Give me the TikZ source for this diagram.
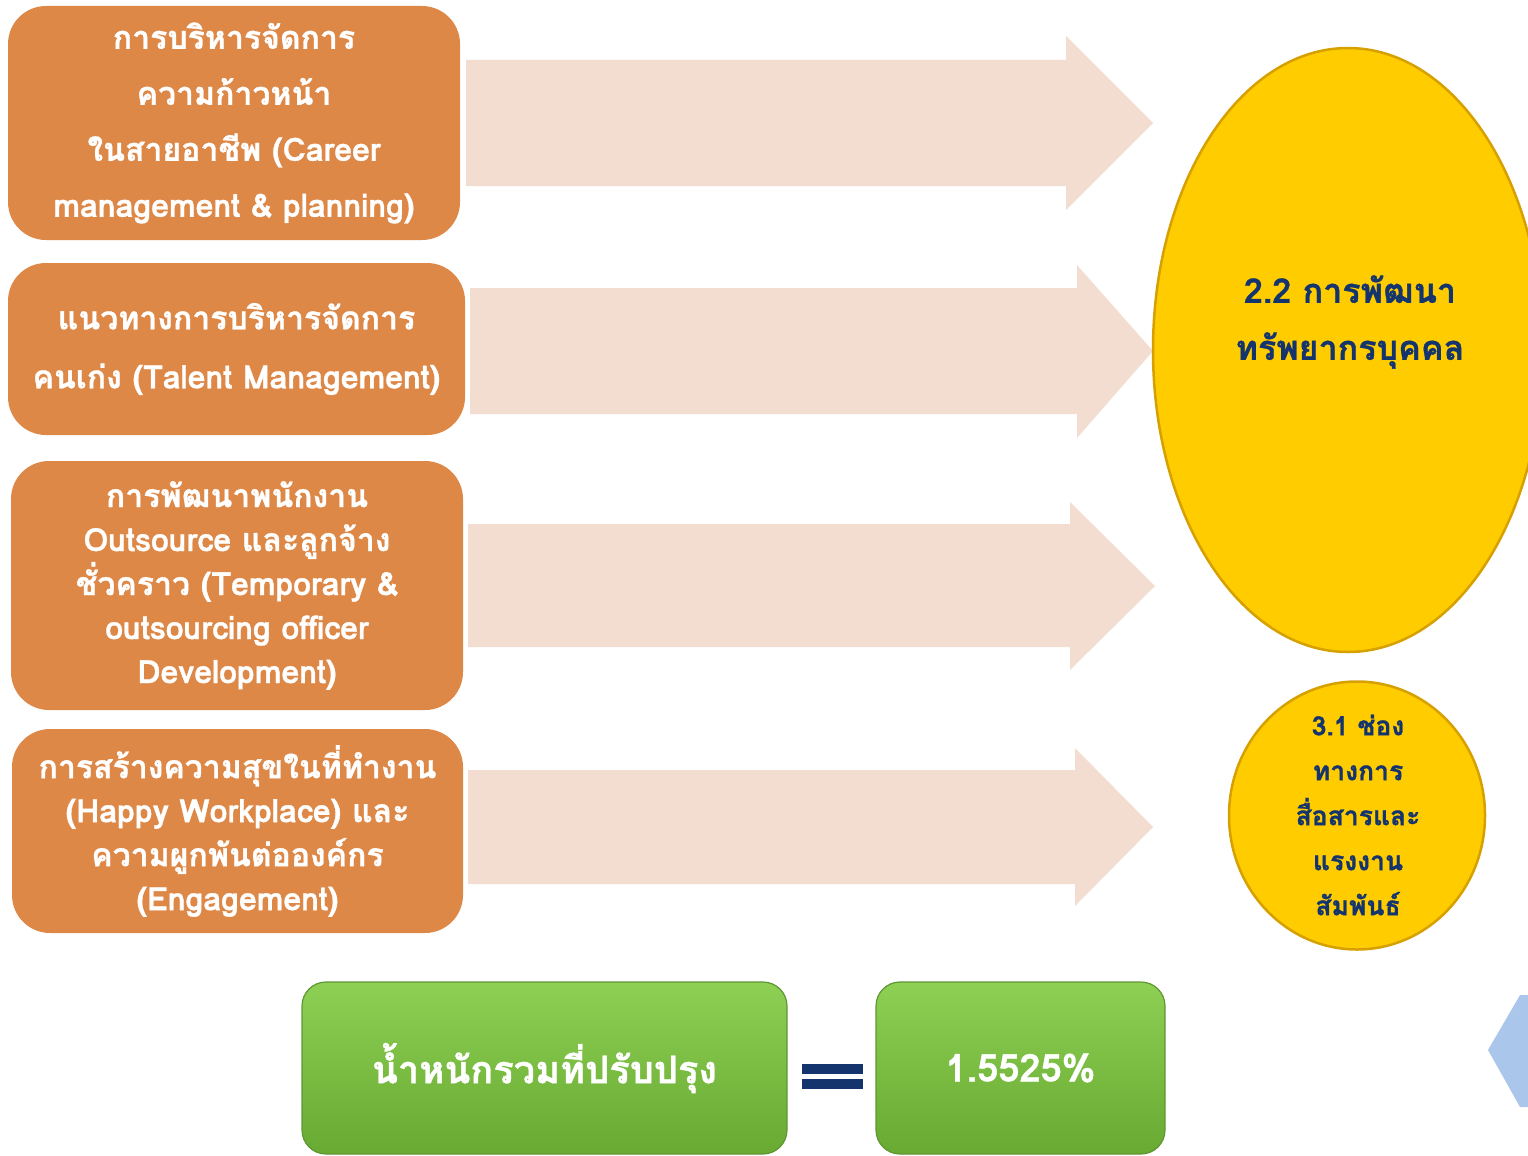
\documentclass[tikz,border=0pt]{standalone}
\usepackage{fontspec}
\newfontfamily\thaifont[Script=Thai, BoldFeatures={FakeBold=1}]{Loma}
\usetikzlibrary{shapes.geometric}
\definecolor{boxorange}{RGB}{222,136,72}
\definecolor{arrowpink}{RGB}{243,221,208}
\definecolor{goldfill}{RGB}{255,204,0}
\definecolor{goldedge}{RGB}{214,160,0}
\definecolor{navy}{RGB}{20,52,110}
\definecolor{greentop}{RGB}{142,208,84}
\definecolor{greenbot}{RGB}{104,170,50}
\definecolor{greenedge}{RGB}{96,150,50}
\definecolor{chevblue}{RGB}{170,198,234}
\tikzset{
  topicbox/.style={draw=none, fill=boxorange, rounded corners=38pt, text=white,
    align=center, inner sep=0pt},
  blockarrow/.style={fill=arrowpink, draw=none},
  goal/.style={ellipse, fill=goldfill, draw=goldedge, line width=2.5pt, inner sep=0pt},
  goaltext/.style={text=navy, align=center, inner sep=0pt},
  greenbox/.style={rounded corners=24pt, top color=greentop, bottom color=greenbot,
    draw=greenedge, line width=1.2pt, text=white, inner sep=0pt}
}
\begin{document}
\begin{tikzpicture}[x=1pt,y=-1pt]
\useasboundingbox (0,0) rectangle (1528,1156);

% block arrows pointing right
\draw[blockarrow] (466,60) -- (1066,60) -- (1066,36) -- (1153,123) -- (1066,210) -- (1066,186) -- (466,186) -- cycle;
\draw[blockarrow] (470,288) -- (1077,288) -- (1077,265) -- (1153,351) -- (1077,438) -- (1077,414) -- (470,414) -- cycle;
\draw[blockarrow] (468,524) -- (1070,524) -- (1070,502) -- (1155,586) -- (1070,670) -- (1070,647) -- (468,647) -- cycle;
\draw[blockarrow] (468,770) -- (1075,770) -- (1075,748) -- (1153,827) -- (1075,906) -- (1075,884) -- (468,884) -- cycle;

% topic boxes
\node[topicbox, minimum width=452pt, minimum height=234pt,
  font=\thaifont\bfseries\fontsize{32}{56}\selectfont] (b1) at (234,123)
  {การบริหารจัดการ\\ความก้าวหน้า\\ในสายอาชีพ (Career\\management \& planning)};
\node[topicbox, minimum width=457pt, minimum height=172pt,
  font=\thaifont\bfseries\fontsize{32}{59}\selectfont] (b2) at (236.5,349)
  {แนวทางการบริหารจัดการ\\คนเก่ง (Talent Management)};
\node[topicbox, minimum width=452pt, minimum height=249pt,
  font=\thaifont\bfseries\fontsize{32}{44}\selectfont] (b3) at (237,585.5)
  {การพัฒนาพนักงาน\\Outsource และลูกจ้าง\\ชั่วคราว (Temporary \&\\outsourcing officer\\Development)};
\node[topicbox, minimum width=451pt, minimum height=204pt,
  font=\thaifont\bfseries\fontsize{32}{44}\selectfont] (b4) at (237.5,831)
  {การสร้างความสุขในที่ทำงาน\\(Happy Workplace) และ\\ความผูกพันต่อองค์กร\\(Engagement)};

% goals
\node[goal, minimum width=390pt, minimum height=604pt] (g1) at (1348,350) {};
\node[goaltext, font=\thaifont\bfseries\fontsize{34}{57}\selectfont] (g1t) at (1350,322)
  {2.2 การพัฒนา\\ทรัพยากรบุคคล};
\node[goal, minimum width=256pt, minimum height=268pt] (g2) at (1357,815.5) {};
\node[goaltext, font=\thaifont\bfseries\fontsize{26.5}{45}\selectfont] (g2t) at (1358,815)
  {3.1 ช่อง\\ทางการ\\สื่อสารและ\\แรงงาน\\สัมพันธ์};

% weight summary
\node[greenbox, minimum width=485pt, minimum height=172pt,
  font=\thaifont\bfseries\fontsize{38}{44}\selectfont] (w1) at (544.5,1068)
  {น้ำหนักรวมที่ปรับปรุง};
\node[greenbox, minimum width=289pt, minimum height=172pt,
  font=\thaifont\bfseries\fontsize{38}{44}\selectfont] (w2) at (1020.5,1068)
  {1.5525\%};
\fill[navy] (802,1064) rectangle (863,1074);
\fill[navy] (802,1079) rectangle (863,1089);

% chevron at the right margin
\fill[chevblue] (1530,995) -- (1520,995) -- (1488,1050) -- (1520,1107) -- (1530,1107) -- cycle;
\end{tikzpicture}
\end{document}
